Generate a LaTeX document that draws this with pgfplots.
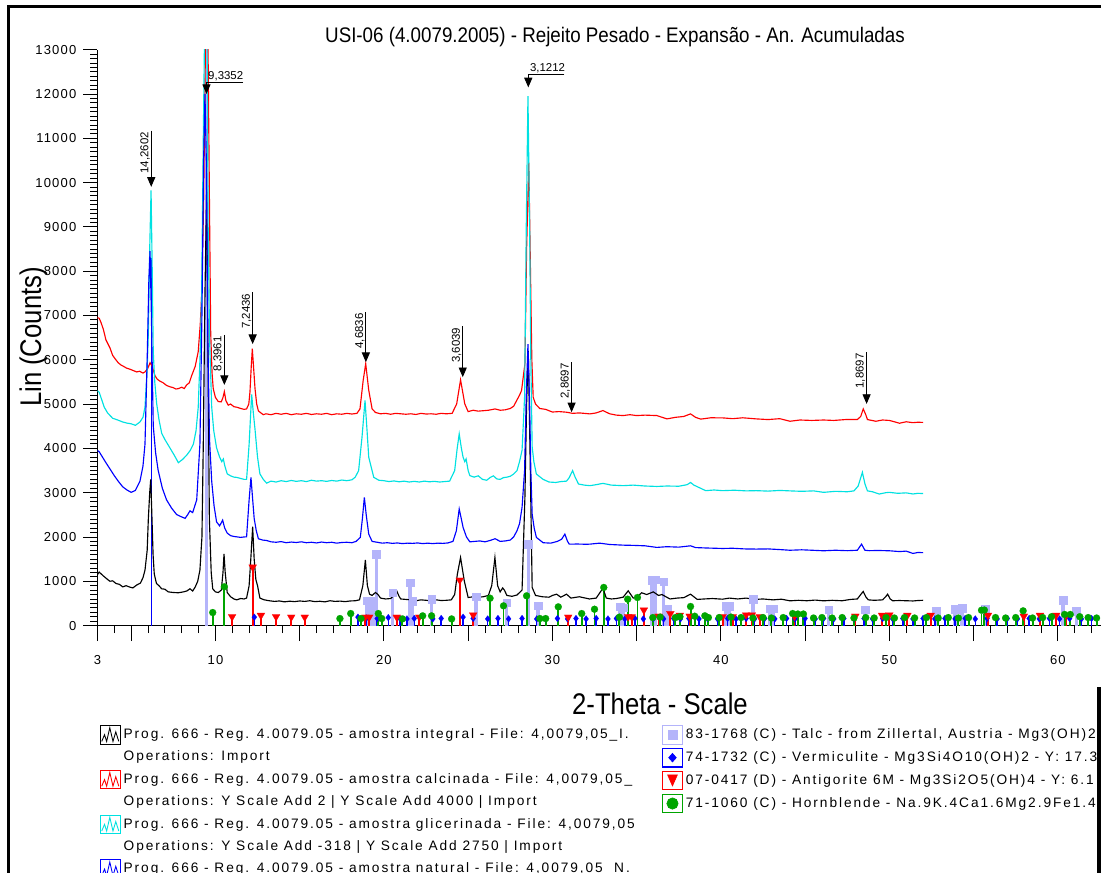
\documentclass[border=0pt]{standalone}
\usepackage{fontspec}
\setmainfont{Liberation Sans}
\newfontfamily\legfont[LetterSpace=14]{Liberation Sans}
\newfontfamily\tickfont[LetterSpace=9]{Liberation Sans}
\usepackage{graphicx}
\usepackage{pgfplots}
\usepackage{pgfplotstable}
\pgfplotsset{compat=1.18}
\usetikzlibrary{arrows.meta}
\definecolor{cyanx}{RGB}{0,225,225}
\definecolor{talc}{RGB}{180,180,250}
\definecolor{hgreen}{RGB}{0,165,0}
\definecolor{ared}{RGB}{255,0,0}
\definecolor{vblue}{RGB}{0,0,255}

\pgfplotstableread{
x y
3.0 1150
3.1 1207
3.35 1120
3.6 1040
3.74 1000
3.9 1010
4.1 950
4.3 930
4.5 873
4.7 900
4.9 870
5.1 850
5.33 915
5.55 960
5.7 1080
5.82 1250
5.95 1700
6.02 2420
6.1 3000
6.16 3300
6.22 2600
6.3 1600
6.37 1166
6.5 950
6.65 900
6.81 830
7.0 820
7.2 760
7.5 746
7.8 740
8.1 760
8.3 780
8.49 830
8.65 780
8.8 870
8.95 1000
9.08 1250
9.2 2000
9.28 4092
9.38 7500
9.48 9850
9.56 6000
9.64 2420
9.75 1200
9.84 830
10.0 760
10.17 746
10.35 800
10.45 1200
10.51 1620
10.58 1200
10.7 746
10.9 650
11.1 600
11.26 580
11.5 610
11.7 600
11.85 620
12.0 900
12.1 1500
12.21 2230
12.3 1500
12.4 1040
12.5 900
12.64 620
12.9 580
13.2 560
13.5 545
13.8 555
14.1 535
14.4 550
14.7 540
15.0 555
15.3 545
15.6 560
15.9 540
16.2 548
16.5 535
16.8 560
17.1 545
17.4 552
17.7 540
18.0 555
18.3 560
18.55 580
18.75 900
18.9 1480
19.02 900
19.15 708
19.3 680
19.5 746
19.65 700
19.8 620
20.1 600
20.4 610
20.6 680
20.76 784
20.9 660
21.0 600
21.3 590
21.6 580
21.9 560
22.2 580
22.5 570
22.8 560
23.1 580
23.4 565
23.7 570
24.0 580
24.2 700
24.36 1160
24.55 1537
24.77 1010
25.0 633
25.3 650
25.6 640
25.9 650
26.2 680
26.4 900
26.59 1537
26.75 900
26.9 760
27.05 850
27.15 800
27.3 680
27.6 660
27.9 690
28.2 800
28.37 2900
28.47 5000
28.57 6200
28.67 4000
28.8 860
29.0 680
29.4 650
29.8 640
30.0 680
30.25 708
30.5 640
30.84 708
31.1 620
31.6 650
32.2 600
32.6 620
33.0 843
33.2 620
33.5 600
33.8 610
34.2 640
34.5 784
34.8 620
35.0 640
35.3 740
35.6 700
35.99 760
36.3 680
36.5 700
36.98 600
37.4 620
37.8 630
38.2 708
38.6 590
39.0 600
39.5 610
40.1 595
40.5 620
41.0 600
41.5 620
42.0 590
42.5 600
43.1 580
43.6 595
44.1 558
44.6 570
45.1 560
45.6 575
46.1 558
46.6 570
47.2 560
47.7 590
48.1 600
48.3 700
48.45 769
48.6 650
48.75 580
49.1 570
49.6 580
49.8 660
49.9 708
50.05 600
50.2 560
50.6 565
51.0 560
51.4 555
51.7 565
52.0 570
}\blk

\pgfplotstableread{
x y
3.0 6950
3.1 6937
3.2 6850
3.35 6686
3.5 6450
3.74 6268
3.9 6100
4.05 6020
4.23 5933
4.4 5880
4.55 5850
4.73 5811
4.9 5790
5.1 5760
5.33 5725
5.5 5740
5.7 5700
5.82 5725
5.98 5800
6.12 5933
6.25 5850
6.41 5641
6.55 5560
6.71 5517
6.9 5480
7.1 5420
7.3 5390
7.5 5370
7.65 5340
7.8 5348
8.0 5380
8.15 5350
8.29 5431
8.45 5480
8.59 5641
8.8 5850
8.98 6184
9.1 6800
9.18 7440
9.3 9500
9.42 13500
9.55 13500
9.66 9000
9.72 6600
9.8 5700
9.87 5350
10.0 5150
10.17 5056
10.35 5050
10.45 5150
10.53 5280
10.62 5080
10.76 4975
10.9 5000
11.1 4940
11.26 4930
11.5 4900
11.7 4880
11.85 4890
11.98 5000
12.05 5270
12.12 5800
12.19 6250
12.27 5800
12.35 5350
12.45 5000
12.55 4845
12.7 4800
12.84 4760
13.0 4780
13.3 4760
13.6 4790
13.9 4770
14.2 4790
14.5 4760
14.8 4780
15.1 4770
15.4 4790
15.7 4765
16.0 4780
16.3 4770
16.6 4790
16.9 4760
17.2 4780
17.5 4770
17.8 4790
18.1 4775
18.4 4790
18.58 4890
18.77 5533
18.92 5910
19.1 5313
19.3 4890
19.5 4810
19.8 4780
20.1 4790
20.4 4770
20.7 4790
21.0 4780
21.3 4770
21.6 4780
21.9 4765
22.2 4790
22.5 4775
22.8 4780
23.1 4770
23.4 4790
23.7 4780
24.05 4790
24.32 5004
24.55 5547
24.8 5004
25.0 4830
25.3 4860
25.6 4840
25.9 4850
26.2 4860
26.6 4890
26.9 4860
27.2 4870
27.5 4900
27.7 4950
27.88 5080
28.05 5200
28.17 5306
28.37 5910
28.47 8500
28.6 10450
28.7 8000
28.78 6000
28.86 5155
29.0 5000
29.25 4900
29.6 4880
30.0 4820
30.4 4830
30.84 4816
31.2 4790
31.6 4800
32.23 4778
32.6 4800
33.0 4853
33.4 4780
33.8 4750
34.2 4740
34.6 4760
35.0 4740
35.5 4750
36.2 4740
36.8 4665
37.3 4700
37.8 4720
38.2 4778
38.5 4700
38.8 4660
39.4 4690
40.1 4688
40.7 4670
41.3 4690
42.1 4665
42.8 4650
43.5 4670
44.1 4612
44.7 4640
45.4 4630
46.1 4640
46.7 4630
47.4 4650
48.1 4650
48.3 4720
48.45 4891
48.6 4760
48.7 4650
49.2 4612
49.6 4640
50.0 4630
50.3 4600
50.6 4567
51.0 4600
51.4 4580
51.7 4590
52.0 4585
}\red

\pgfplotstableread{
x y
3.0 5300
3.1 5268
3.25 5100
3.4 4930
3.6 4800
3.9 4680
4.2 4640
4.5 4595
4.75 4570
5.0 4554
5.25 4520
5.52 4595
5.7 4700
5.82 4930
5.95 5800
6.02 6600
6.1 8500
6.18 9825
6.25 8000
6.31 6184
6.4 5500
6.51 5020
6.65 4650
6.81 4343
7.0 4200
7.3 4010
7.55 3850
7.8 3677
8.05 3750
8.29 3844
8.5 3950
8.69 4092
8.85 4400
8.98 4930
9.1 6200
9.18 7440
9.28 11000
9.36 13500
9.5 13500
9.57 9000
9.65 6500
9.78 4930
9.9 4400
10.07 4010
10.25 3800
10.38 3700
10.47 3760
10.56 3600
10.7 3425
10.9 3380
11.1 3350
11.26 3345
11.5 3320
11.7 3300
11.85 3300
12.0 4092
12.15 5220
12.25 4800
12.35 4430
12.5 3800
12.64 3425
12.84 3300
13.04 3215
13.3 3260
13.6 3240
13.9 3270
14.2 3250
14.5 3275
14.8 3255
15.1 3270
15.4 3250
15.7 3280
16.0 3260
16.3 3270
16.6 3255
16.9 3275
17.2 3260
17.5 3285
17.8 3270
18.1 3290
18.3 3350
18.5 3498
18.7 4250
18.88 5080
19.0 4400
19.1 3800
19.4 3346
19.7 3280
20.0 3270
20.3 3250
20.6 3265
20.9 3245
21.2 3260
21.5 3240
21.8 3255
22.1 3240
22.4 3260
22.7 3245
23.0 3255
23.3 3240
23.6 3250
23.9 3260
24.2 3498
24.35 4000
24.47 4326
24.6 4000
24.7 3800
24.8 3700
24.88 3760
25.0 3500
25.1 3385
25.35 3350
25.6 3380
25.85 3300
26.1 3280
26.3 3340
26.5 3380
26.7 3310
26.9 3300
27.1 3340
27.3 3350
27.5 3370
27.7 3420
27.9 3498
28.05 3700
28.2 3956
28.35 5155
28.45 9000
28.55 11950
28.65 9000
28.72 6000
28.8 4035
28.9 3700
29.05 3420
29.45 3300
29.8 3240
30.2 3230
30.5 3250
30.84 3260
31.0 3340
31.2 3498
31.35 3350
31.55 3195
31.9 3170
32.23 3158
32.6 3180
33.0 3210
33.5 3170
34.2 3158
34.8 3170
35.5 3150
36.2 3140
36.8 3150
37.5 3145
38.0 3180
38.2 3230
38.4 3170
39.1 3045
39.6 3060
40.1 3045
40.8 3055
41.5 3040
42.1 3045
42.8 3035
43.5 3050
44.1 3040
44.8 3030
45.5 3040
46.1 3007
46.8 3030
47.5 3020
47.9 3040
48.15 3150
48.4 3460
48.55 3200
48.7 3040
49.0 3020
49.4 2969
49.8 3000
50.0 3007
50.5 2985
51.0 2995
51.4 2970
51.7 2985
52.0 2980
}\cyn

\pgfplotstableread{
x y
3.0 3950
3.1 3925
3.3 3800
3.5 3677
3.75 3530
4.0 3382
4.25 3250
4.5 3131
4.75 3060
5.0 3007
5.25 3050
5.52 3256
5.7 3600
5.82 4092
5.96 6184
6.05 7800
6.12 8450
6.2 7000
6.31 4510
6.45 3900
6.6 3507
6.85 3100
7.1 2837
7.4 2650
7.7 2505
7.95 2460
8.2 2420
8.35 2500
8.49 2590
8.65 2550
8.89 2837
9.08 4092
9.2 7000
9.3 10500
9.38 12000
9.46 10500
9.55 6500
9.65 4200
9.78 3256
9.92 2700
10.07 2338
10.25 2250
10.43 2380
10.55 2200
10.7 2087
10.9 2030
11.1 2010
11.26 2003
11.5 1990
11.7 2000
11.85 2003
12.0 2837
12.11 3345
12.2 2900
12.3 2420
12.42 2150
12.55 1960
12.8 1930
13.04 1920
13.3 1890
13.6 1880
13.9 1895
14.2 1870
14.5 1885
14.8 1875
15.1 1890
15.4 1870
15.7 1880
16.0 1865
16.3 1885
16.6 1870
16.9 1880
17.2 1860
17.5 1875
17.8 1880
18.1 1870
18.35 1900
18.6 1990
18.72 2400
18.84 2894
18.95 2500
19.1 2064
19.3 1900
19.6 1880
19.9 1860
20.2 1870
20.5 1855
20.8 1865
21.1 1850
21.4 1860
21.7 1855
22.0 1865
22.3 1850
22.6 1860
22.9 1850
23.2 1860
23.5 1855
23.8 1865
24.1 1900
24.3 2140
24.47 2630
24.6 2400
24.7 2216
24.9 2000
25.1 1890
25.4 1900
25.7 1910
26.0 1890
26.3 1920
26.6 1960
26.9 1900
27.2 1910
27.5 1930
27.7 2000
27.9 2140
28.05 2300
28.2 2668
28.35 3500
28.45 5200
28.55 6350
28.65 5000
28.72 3500
28.8 2517
28.92 2200
29.05 1990
29.45 1870
29.9 1860
30.3 1900
30.55 1950
30.74 2064
30.9 1900
31.0 1838
31.5 1840
32.0 1835
32.23 1838
32.8 1860
33.4 1830
34.2 1815
34.8 1810
35.5 1800
36.2 1764
36.8 1780
37.5 1770
38.2 1800
38.5 1760
39.2 1750
40.1 1740
40.7 1745
41.4 1730
42.1 1726
42.8 1730
43.5 1715
44.1 1700
44.8 1710
45.4 1700
46.1 1688
46.8 1700
47.5 1690
48.1 1700
48.35 1838
48.55 1700
48.8 1690
49.3 1695
50.0 1688
50.6 1670
51.0 1680
51.4 1628
51.7 1650
52.0 1645
}\blu

% strongest reference lines (drawn without marker: their tops are hidden)
\pgfplotstableread{
x y
9.47 14000
}\talcmain
\pgfplotstableread{
x y
6.19 8300
}\vermmain

\pgfplotstableread{
x y
18.97 565
19.15 565
19.35 565
19.55 1612
20.52 746
21.55 972
21.7 560
22.83 595
25.46 656
27.28 520
28.57 1838
29.14 452
34.0 430
34.2 407
35.9 1033
36.1 1040
36.6 995
36.8 380
40.3 445
40.5 445
41.9 595
42.9 380
43.1 385
46.4 360
48.55 360
52.76 339
53.9 369
54.3 391
55.67 369
60.3 572
61.1 330
}\talcdata

\pgfplotstableread{
x y
12.31 190
18.46 190
18.97 170
19.6 160
20.26 180
20.95 160
21.37 150
21.8 160
22.9 150
23.4 160
24.7 190
25.3 160
26.16 150
26.77 160
27.4 150
28.2 160
29.07 150
29.6 150
30.3 160
30.9 150
31.4 160
32.0 150
32.6 160
33.3 150
33.8 160
34.3 150
34.9 160
35.4 150
36.0 160
36.6 150
37.2 160
37.6 150
38.1 160
38.7 150
39.2 160
39.8 150
40.4 160
40.9 150
41.5 160
42.0 150
42.6 160
43.2 150
43.9 160
44.4 150
45.0 160
45.6 150
46.1 160
46.7 150
47.3 160
47.9 150
48.5 160
49.0 150
49.6 160
50.2 150
50.8 160
51.4 150
52.0 160
52.7 150
53.3 160
53.9 150
54.5 160
55.1 150
55.8 160
56.4 150
57.0 160
57.6 150
58.3 160
58.9 150
59.5 160
60.1 150
60.7 160
61.4 150
62.0 160
}\vermdata

\pgfplotstableread{
x y
10.99 200
12.21 1320
12.7 230
13.6 200
14.5 190
15.3 190
18.9 190
19.13 190
20.76 190
22.1 190
24.5 1025
25.3 240
30.94 190
34.5 200
34.7 200
35.43 350
36.3 210
37.0 270
37.56 230
38.15 210
40.1 200
40.7 200
41.5 240
41.84 240
42.3 200
44.37 210
47.98 210
49.57 230
50.0 240
51.07 230
52.45 230
55.85 230
57.98 210
58.94 230
59.9 230
60.5 230
}\antdata

\pgfplotstableread{
x y
9.84 294
10.53 875
17.39 158
18.03 271
18.64 158
19.67 271
19.87 158
21.1 150
22.3 219
22.83 219
24.02 150
26.3 617
27.1 445
28.47 671
29.26 158
29.6 158
30.35 422
31.74 271
32.5 369
33.05 860
33.98 190
34.47 595
35.05 633
35.96 180
36.4 190
37.3 180
37.57 200
38.2 430
38.45 210
39.05 220
39.26 180
39.9 180
40.6 190
41.2 180
41.9 170
42.5 180
43.0 170
43.7 180
44.26 271
44.57 260
44.9 260
45.5 170
46.0 180
46.6 170
47.2 180
47.9 170
48.6 180
49.1 170
49.8 180
50.3 170
50.9 180
51.5 170
52.2 180
52.9 170
53.5 180
54.1 170
54.7 180
55.47 346
55.64 350
56.3 180
56.9 170
57.5 180
57.94 332
58.5 170
59.1 180
59.63 200
60.4 250
60.74 250
61.3 200
61.8 180
62.3 170
}\horndata

\newcommand{\zigicon}[1]{%
  \draw[#1,line width=0.6pt] (0pt,-5.3pt) rectangle (11.5pt,5.3pt);
  \draw[#1,line width=0.5pt] (0.8pt,-3.8pt) -- (2.4pt,0pt) -- (3.6pt,-3.8pt) -- (5.4pt,4pt) -- (7.2pt,-3.8pt) -- (8.8pt,1.6pt) -- (10.5pt,-3.8pt);}
\newcommand{\noicon}{\path[draw=none,fill=none] (0pt,-5.3pt) rectangle (11.5pt,5.3pt);}
\newcommand{\boxicon}[1]{\draw[#1,line width=0.6pt] (0pt,-5.3pt) rectangle (11.5pt,5.3pt);}
\newcommand{\annsize}{\fontsize{6.5}{7}\selectfont}
\tikzset{darr/.style={-{Triangle[width=4.6pt,length=5.5pt]}, line width=0.55pt, black}}

\begin{document}
\begin{tikzpicture}[x=0.02cm,y=0.02cm]
\useasboundingbox (0,0) rectangle (1101,872);
\fill[white] (0,0) rectangle (1101,872);
\clip (0,0) rectangle (1101,872);

\begin{axis}[
  at={(1.95cm,4.93cm)}, anchor=south west,
  scale only axis, width=20.07cm, height=11.52cm,
  xmin=3, xmax=62.55, ymin=0, ymax=13000,
  axis x line=bottom, axis y line=left,
  axis line style={-, line width=0.6pt},
  tick align=outside,
  xtick={3,10,20,30,40,50,60},
  minor xtick={3,...,62},
  extra x ticks={5,15,25,35,45,55},
  extra x tick labels={},
  extra x tick style={/pgfplots/major tick length=0.22cm},
  xtick style={/pgfplots/major tick length=0.31cm, /pgfplots/minor tick length=0.15cm, line width=0.5pt, black},
  ytick={0,1000,...,13000},
  minor ytick={0,100,...,13000},
  ytick style={/pgfplots/major tick length=0.28cm, /pgfplots/minor tick length=0.14cm, line width=0.5pt, black},
  scaled y ticks=false,
  /pgf/number format/.cd, 1000 sep={}, assume math mode=true, /pgfplots/.cd,
  ticklabel style={font=\tickfont\fontsize{7.4}{8}\selectfont},
  xticklabel style={yshift=-0.32cm},
  yticklabel style={xshift=-0.15cm},
  legend cell align=left,
  legend style={draw=none, fill=none, inner sep=0pt, outer sep=0pt,
    at={(axis description cs:0.0023,-0.1725)}, anchor=north west,
    row sep=1.85pt, column sep=1.5pt,
    font=\legfont\fontsize{7.8}{8.5}\selectfont,
    nodes={inner sep=0pt, text height=6pt, text depth=1.8pt}},
]
\addplot[forget plot, ycomb, draw=talc, line width=2pt] table {\talcmain};
\addplot[forget plot, ycomb, draw=vblue, line width=0.8pt] table {\vermmain};
\addplot[forget plot, ycomb, draw=talc, line width=2pt, mark=square*, mark size=2.2pt, mark options={solid, fill=talc, draw=talc, line width=0.1pt}] table {\talcdata};
\addplot[forget plot, ycomb, draw=vblue, line width=0.8pt, mark=diamond*, mark size=1.9pt, mark options={solid, fill=vblue, draw=vblue, line width=0.1pt}] table {\vermdata};
\addplot[forget plot, ycomb, draw=ared, line width=1.1pt, mark=triangle*, mark size=2.6pt, mark options={solid, rotate=180, fill=ared, draw=ared, line width=0.1pt}] table {\antdata};
\addplot[forget plot, ycomb, draw=hgreen, line width=1.1pt, mark=*, mark size=2.0pt, mark options={solid, fill=hgreen, draw=hgreen, line width=0.1pt}] table {\horndata};

\addplot[forget plot, black, line width=0.65pt] table {\blk};
\addplot[forget plot, ared, line width=0.65pt] table {\red};
\addplot[forget plot, cyanx, line width=0.65pt] table {\cyn};
\addplot[forget plot, vblue, line width=0.65pt] table {\blu};

% peak annotations (d-spacings)
\draw[darr] (axis cs:6.19,11170) -- (axis cs:6.19,9903);
\node[rotate=90, anchor=south east, inner sep=0.6pt, font=\annsize] at (axis cs:6.19,11170) {14,2602};
\draw[darr] (axis cs:11.64,12250) -- (axis cs:9.47,12250) -- (axis cs:9.47,12000);
\node[anchor=south west, inner sep=0.8pt, font=\annsize] at (axis cs:9.47,12250) {9,3352};
\draw[darr] (axis cs:10.53,6561) -- (axis cs:10.53,5431);
\node[rotate=90, anchor=south east, inner sep=0.6pt, font=\annsize] at (axis cs:10.53,6561) {8,3961};
\draw[darr] (axis cs:12.21,7522) -- (axis cs:12.21,6353);
\node[rotate=90, anchor=south east, inner sep=0.6pt, font=\annsize] at (axis cs:12.21,7522) {7,2436};
\draw[darr] (axis cs:18.93,7077) -- (axis cs:18.93,5946);
\node[rotate=90, anchor=south east, inner sep=0.6pt, font=\annsize] at (axis cs:18.93,7077) {4,6836};
\draw[darr] (axis cs:24.68,6754) -- (axis cs:24.68,5607);
\node[rotate=90, anchor=south east, inner sep=0.6pt, font=\annsize] at (axis cs:24.68,6754) {3,6039};
\draw[darr] (axis cs:30.71,12429) -- (axis cs:28.57,12429) -- (axis cs:28.57,12148);
\node[anchor=south west, inner sep=0.8pt, font=\annsize] at (axis cs:28.57,12429) {3,1212};
\draw[darr] (axis cs:31.14,5946) -- (axis cs:31.14,4816);
\node[rotate=90, anchor=south east, inner sep=0.6pt, font=\annsize] at (axis cs:31.14,5946) {2,8697};
\draw[darr] (axis cs:48.65,6172) -- (axis cs:48.65,5003);
\node[rotate=90, anchor=south east, inner sep=0.6pt, font=\annsize] at (axis cs:48.65,6172) {1,8697};

\addlegendimage{legend image code/.code={\zigicon{black}}}
\addlegendentry{Prog. 666 - Reg. 4.0079.05 - amostra integral - File: 4,0079,05\_I.}
\addlegendimage{legend image code/.code={\noicon}}
\addlegendentry{Operations: Import}
\addlegendimage{legend image code/.code={\zigicon{ared}}}
\addlegendentry{Prog. 666 - Reg. 4.0079.05 - amostra calcinada - File: 4,0079,05\_}
\addlegendimage{legend image code/.code={\noicon}}
\addlegendentry{Operations: Y Scale Add 2 | Y Scale Add 4000 | Import}
\addlegendimage{legend image code/.code={\zigicon{cyanx}}}
\addlegendentry{Prog. 666 - Reg. 4.0079.05 - amostra glicerinada - File: 4,0079,05}
\addlegendimage{legend image code/.code={\noicon}}
\addlegendentry{Operations: Y Scale Add -318 | Y Scale Add 2750 | Import}
\addlegendimage{legend image code/.code={\zigicon{vblue}}}
\addlegendentry{Prog. 666 - Reg. 4.0079.05 - amostra natural - File: 4,0079,05\_N.}
\end{axis}

\begin{axis}[
  at={(1.95cm,4.93cm)}, anchor=south west,
  scale only axis, width=20.07cm, height=11.52cm,
  hide axis, xmin=0, xmax=1, ymin=0, ymax=1,
  legend cell align=left,
  legend style={draw=none, fill=none, inner sep=0pt, outer sep=0pt,
    at={(axis description cs:0.5625,-0.1725)}, anchor=north west,
    row sep=1.85pt, column sep=1.5pt,
    font=\legfont\fontsize{7.8}{8.5}\selectfont,
    nodes={inner sep=0pt, text height=6pt, text depth=1.8pt}},
]
\addlegendimage{legend image code/.code={\boxicon{talc}\fill[talc] (3.2pt,-2.5pt) rectangle (8.3pt,2.5pt);}}
\addlegendentry{83-1768 (C) - Talc - from Zillertal, Austria - Mg3(OH)2}
\addlegendimage{legend image code/.code={\boxicon{vblue}\fill[vblue] (5.75pt,2.4pt) -- (7.9pt,0pt) -- (5.75pt,-2.4pt) -- (3.6pt,0pt) -- cycle;}}
\addlegendentry{74-1732 (C) - Vermiculite - Mg3Si4O10(OH)2 - Y: 17.3}
\addlegendimage{legend image code/.code={\boxicon{ared}\fill[ared] (3pt,3.2pt) -- (8.5pt,3.2pt) -- (5.75pt,-3pt) -- cycle;}}
\addlegendentry{07-0417 (D) - Antigorite 6M - Mg3Si2O5(OH)4 - Y: 6.1}
\addlegendimage{legend image code/.code={\boxicon{hgreen}\fill[hgreen] (5.75pt,0pt) circle (3.2pt);}}
\addlegendentry{71-1060 (C) - Hornblende - Na.9K.4Ca1.6Mg2.9Fe1.4}
\end{axis}

% frame
\draw[line width=0.05cm] (8.5,-5) -- (8.5,865.5) -- (1110,865.5);
\draw[line width=0.07cm] (1099,-5) -- (1099,185);
% titles
\node[anchor=base, inner sep=0pt, font=\fontsize{12}{14}\selectfont] at (615,829.3) {\scalebox{0.89}[1]{USI-06 (4.0079.2005) - Rejeito Pesado - Expansão - An. Acumuladas}};
\node[anchor=base, inner sep=0pt, font=\fontsize{17}{20}\selectfont] at (660,158) {\scalebox{0.86}[1]{2-Theta - Scale}};
\node[rotate=90, anchor=base, inner sep=0pt, font=\fontsize{17}{20}\selectfont] at (41,535) {\scalebox{0.86}[1]{Lin (Counts)}};
\end{tikzpicture}
\end{document}
